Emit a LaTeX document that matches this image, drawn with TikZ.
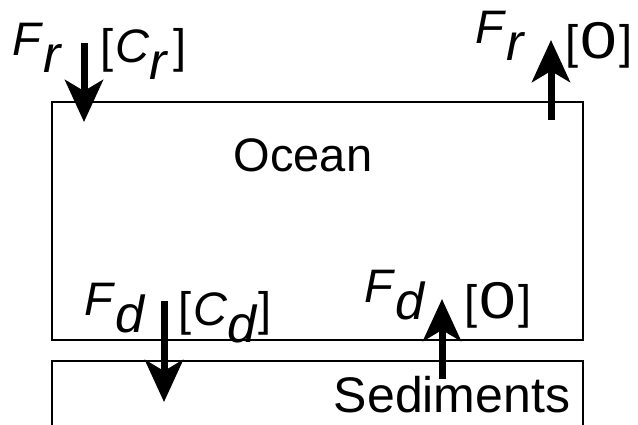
\documentclass[tikz,border=0pt]{standalone}
\usepackage{fontspec}
\setmainfont{Liberation Sans}
\usetikzlibrary{arrows.meta}
\newcommand{\lowsub}[1]{\raisebox{-17pt}{\fontsize{52}{60}\selectfont\textit{#1}}}
\newcommand{\wzero}{\hspace{2pt}\scalebox{1.4}[1.1]{0}\hspace{3pt}}
\tikzset{
  boxline/.style={line width=2pt},
  lab/.style={inner sep=0pt, font=\fontsize{47}{56}\selectfont},
  flux/.style={line width=7pt, -{Stealth[length=42pt,width=38pt,inset=11pt]}},
}
\begin{document}
\begin{tikzpicture}[x=1pt,y=-1pt]
\useasboundingbox (0,0) rectangle (638,424);
\clip (0,0) rectangle (638,424);
% boxes
\draw[boxline] (52,102) rectangle (583,340);
\draw[boxline] (52,440) -- (52,361) -- (583,361) -- (583,440);
% box titles
\node[lab, anchor=base] (ocean) at (303,171) {Ocean};
\node[lab, anchor=base, font=\fontsize{50}{60}\selectfont] (sed) at (452,412) {Sediments};
% flux labels
\node[lab, anchor=base west] (frin) at (12,55) {\textit{F}\lowsub{r}};
\node[lab, anchor=base west] (crin) at (100,62) {[\hspace{2pt}\textit{C}\lowsub{r}\hspace{5pt}]};
\node[lab, anchor=base west] (frout) at (475,43) {\textit{F}\lowsub{r}};
\node[lab, anchor=base west] (zout) at (565,58) {[\wzero]};
\node[lab, anchor=base west] (fdin) at (84,315) {\textit{F}\lowsub{d}};
\node[lab, anchor=base west] (cdin) at (178,325) {[\hspace{2pt}\textit{C}\lowsub{d}\hspace{1pt}]};
\node[lab, anchor=base west] (fdout) at (364,302) {\textit{F}\lowsub{d}};
\node[lab, anchor=base west] (zdout) at (464,318) {[\wzero]};
% arrow end points
\coordinate (a1s) at (84,43);  \coordinate (a1e) at (84,122);
\coordinate (a2s) at (551,120); \coordinate (a2e) at (551,40);
\coordinate (a3s) at (164,301); \coordinate (a3e) at (164,402);
\coordinate (a4s) at (442,379); \coordinate (a4e) at (442,299);
\draw[flux] (a1s) -- (a1e);
\draw[flux] (a2s) -- (a2e);
\draw[flux] (a3s) -- (a3e);
\draw[flux] (a4s) -- (a4e);
\end{tikzpicture}
\end{document}
